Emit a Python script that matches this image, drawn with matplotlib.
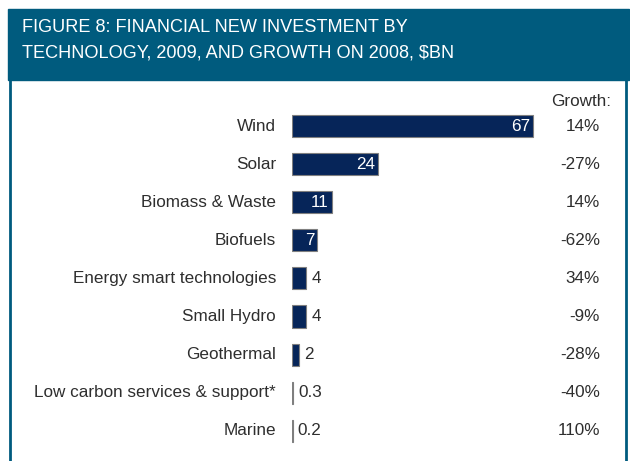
import matplotlib
matplotlib.use("Agg")
import matplotlib.pyplot as plt
from matplotlib.patches import Rectangle
from matplotlib.lines import Line2D

plt.rcParams['font.family'] = ['Liberation Sans', 'DejaVu Sans']

technologies = ["Wind", "Solar", "Biomass & Waste", "Biofuels",
                "Energy smart technologies", "Small Hydro", "Geothermal",
                "Low carbon services & support*", "Marine"]
investment = [67, 24, 11, 7, 4, 4, 2, 0.3, 0.2]
value_labels = ["67", "24", "11", "7", "4", "4", "2", "0.3", "0.2"]
growth = ["14%", "-27%", "14%", "-62%", "34%", "-9%", "-28%", "-40%", "110%"]

teal = "#005b7e"
navy = "#062559"
text_col = "#2e2e2e"
fs = 12.3

W, H = 630, 461
fig = plt.figure(figsize=(W / 100, H / 100), dpi=100)

# header band
fig.patches.append(Rectangle((8 / W, 1 - 80 / H), 621 / W, 71 / H,
                             transform=fig.transFigure, color=teal, zorder=0))
fig.text(22 / W, 1 - 27 / H, "FIGURE 8: FINANCIAL NEW INVESTMENT BY",
         color="white", fontsize=13.1, va="center", ha="left")
fig.text(22 / W, 1 - 53 / H, "TECHNOLOGY, 2009, AND GROWTH ON 2008, $BN",
         color="white", fontsize=13.1, va="center", ha="left")

# side borders
fig.lines.append(Line2D([9.5 / W, 9.5 / W], [0, 1 - 80 / H],
                        transform=fig.transFigure, color=teal, lw=2))
fig.lines.append(Line2D([626 / W, 626 / W], [0, 1 - 80 / H],
                        transform=fig.transFigure, color=teal, lw=2))

# bar axes: x=0 at 292px, 3.6 px per $bn; rows start at 126px, 38.1px apart
x0, scale = 292, 3.6
y0, step = 126, 38.1
top, bottom = 82, 461
ax = fig.add_axes([x0 / W, 0, (625 - x0) / W, (H - top) / H])
ax.set_xlim(0, (625 - x0) / scale)
ax.set_ylim((bottom - y0) / step, (top - y0) / step)
ax.axis("off")

rows = list(range(len(technologies)))
ax.barh(rows, investment, height=0.58, color=navy, edgecolor="#7f7f7f", lw=0.8)

for i in rows:
    ax.text(-16 / scale, i, technologies[i], ha="right", va="center",
            fontsize=fs, color=text_col, clip_on=False)
    if investment[i] >= 7:
        ax.text(investment[i] - 3 / scale, i, value_labels[i], ha="right",
                va="center", fontsize=fs, color="white")
    else:
        ax.text(investment[i] + 5 / scale, i, value_labels[i], ha="left",
                va="center", fontsize=fs, color=text_col)
    ax.text((600 - x0) / scale, i, growth[i], ha="right", va="center",
            fontsize=fs, color=text_col)

ax.text((611 - x0) / scale, (101 - y0) / step, "Growth:", ha="right",
        va="center", fontsize=fs, color=text_col)

fig.savefig("out.png", dpi=100)
